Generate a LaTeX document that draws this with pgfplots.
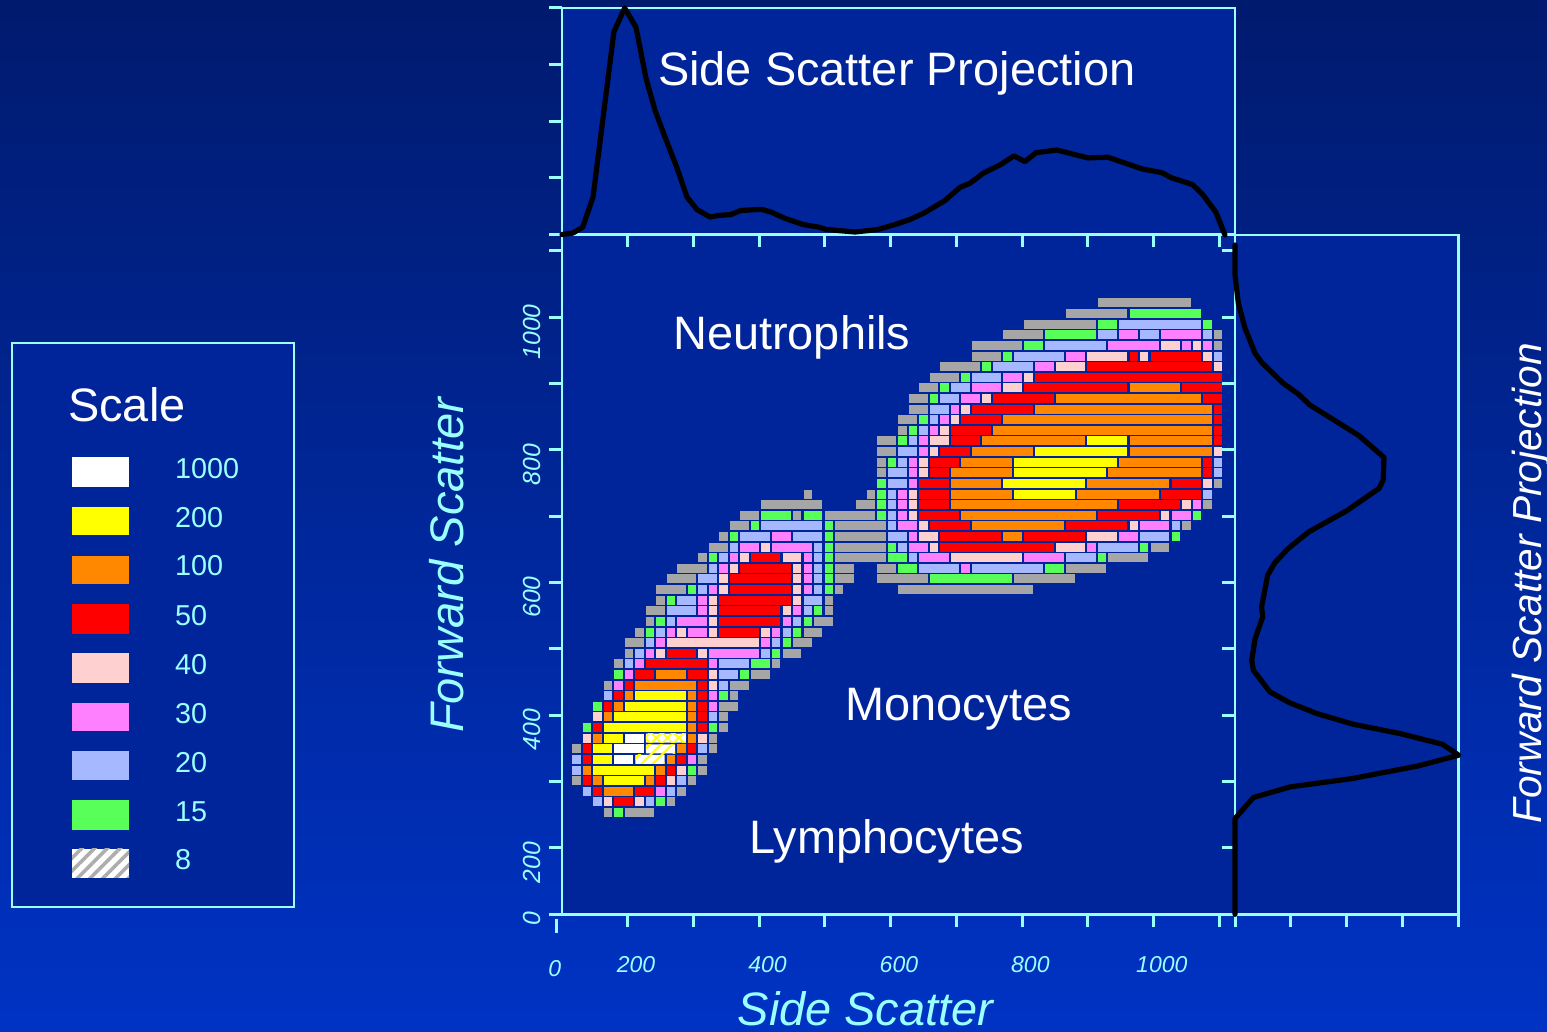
\documentclass[border=0pt]{standalone}
\usepackage{fontspec}
\setmainfont{Liberation Sans}
\usepackage{pgfplots}
\usepackage{pgfplotstable}
\pgfplotsset{compat=1.18}
\usetikzlibrary{patterns.meta}

\definecolor{panel}{HTML}{00259B}
\definecolor{edgecyan}{HTML}{99FFFF}
\definecolor{bgtop}{HTML}{001A6E}
\definecolor{bgbottom}{HTML}{0033C4}
\definecolor{c8}{HTML}{A6A6A6}
\definecolor{c15}{HTML}{59FF59}
\definecolor{c20}{HTML}{A6B8FF}
\definecolor{c30}{HTML}{FF80FF}
\definecolor{c40}{HTML}{FFD0D0}
\definecolor{c50}{HTML}{FF0000}
\definecolor{c100}{HTML}{FF8800}
\definecolor{c200}{HTML}{FFFF00}

% histogram cells, 64 x 64 bins: first bin, run length, row
\pgfplotstableread[row sep=\\]{x n row\\
51 9 57\\ 48 6 56\\ 44 7 55\\ 42 4 54\\ 62 1 54\\ 39 5 53\\ 62 1 53\\ 39 3 52\\ 36 4 51\\ 35 3 50\\
34 2 49\\ 33 2 48\\ 33 2 47\\ 32 2 46\\ 32 1 45\\ 30 2 44\\ 30 2 43\\ 30 1 42\\ 30 1 41\\ 62 1 40\\
23 1 39\\ 29 1 39\\ 19 6 38\\ 28 2 38\\ 61 1 38\\ 17 2 37\\ 22 1 37\\ 25 5 37\\ 16 2 36\\ 26 5 36\\ 59 1 36\\
15 1 35\\ 26 5 35\\ 14 2 34\\ 26 5 34\\ 56 2 34\\ 13 1 33\\ 26 5 33\\ 52 4 33\\ 11 3 32\\ 26 2 32\\ 30 2 32\\ 48 4 32\\
10 3 31\\ 26 2 31\\ 30 5 31\\ 43 6 31\\ 9 3 30\\ 26 1 30\\ 32 13 30\\ 9 1 29\\ 25 1 29\\ 8 2 28\\ 25 1 28\\
8 1 27\\ 24 2 27\\ 7 1 26\\ 23 2 26\\ 6 2 25\\ 22 2 25\\ 6 1 24\\ 21 2 24\\ 5 1 23\\ 20 1 23\\ 18 2 22\\
4 1 21\\ 16 2 21\\ 16 1 20\\ 15 2 19\\ 15 1 18\\ 15 1 17\\ 14 1 16\\ 1 1 15\\ 14 1 15\\ 13 1 14\\ 13 1 13\\
1 1 12\\ 12 1 12\\ 11 1 11\\ 10 1 10\\ 4 1 9\\ 6 3 9\\
}\cellsgray

\pgfplotstableread[row sep=\\]{x n row\\
54 7 56\\ 51 2 55\\ 61 1 55\\ 46 5 54\\ 44 2 53\\ 42 1 52\\ 40 1 51\\ 38 1 50\\ 36 1 49\\ 35 1 48\\
34 1 46\\ 33 1 45\\ 32 1 44\\ 31 1 42\\ 30 1 40\\ 30 1 39\\ 30 1 38\\ 19 3 37\\ 23 2 37\\ 30 1 37\\ 60 1 37\\
18 1 36\\ 25 1 36\\ 16 1 35\\ 25 1 35\\ 58 1 35\\ 25 1 34\\ 31 1 34\\ 55 1 34\\ 14 1 33\\ 25 1 33\\ 31 2 33\\ 51 1 33\\
25 1 32\\ 32 2 32\\ 46 2 32\\ 25 1 31\\ 35 8 31\\ 12 1 30\\ 25 1 30\\ 10 1 29\\ 24 1 28\\ 9 1 27\\ 23 1 27\\
8 1 26\\ 22 1 26\\ 21 1 25\\ 20 1 24\\ 18 2 23\\ 5 1 22\\ 17 1 22\\ 15 1 20\\ 3 1 19\\ 2 1 17\\ 14 1 17\\
12 1 13\\ 9 1 10\\ 5 1 9\\
}\cellsgreen

\pgfplotstableread[row sep=\\]{x n row\\
53 8 55\\ 51 2 54\\ 55 2 54\\ 61 1 54\\ 46 6 53\\ 43 5 52\\ 62 1 52\\ 41 4 51\\ 39 3 50\\ 37 2 49\\
36 2 48\\ 35 2 47\\ 35 1 46\\ 34 1 45\\ 33 1 44\\ 32 2 43\\ 32 1 42\\ 62 1 42\\ 31 2 41\\ 62 1 41\\ 31 2 40\\
31 1 39\\ 61 1 39\\ 31 1 38\\ 31 1 37\\ 19 6 36\\ 31 1 36\\ 58 1 36\\ 17 3 35\\ 22 3 35\\ 31 2 35\\ 55 3 35\\
16 1 34\\ 24 1 34\\ 32 1 34\\ 51 4 34\\ 15 1 33\\ 24 1 33\\ 33 1 33\\ 48 3 33\\ 14 1 32\\ 24 1 32\\ 34 4 32\\ 39 7 32\\
13 2 31\\ 24 1 31\\ 13 1 30\\ 24 1 30\\ 11 2 29\\ 23 2 29\\ 10 3 28\\ 23 1 28\\ 10 1 27\\ 22 1 27\\ 9 1 26\\ 21 1 26\\
8 1 25\\ 20 1 25\\ 7 1 24\\ 19 1 24\\ 6 1 23\\ 15 3 23\\ 15 2 22\\ 15 1 21\\ 4 1 20\\ 14 1 18\\ 13 1 15\\
1 1 14\\ 1 1 13\\ 11 1 12\\ 2 1 11\\ 10 1 11\\ 3 1 10\\ 8 1 10\\
}\cellsblue

\pgfplotstableread[row sep=\\]{x n row\\
53 2 54\\ 57 4 54\\ 52 5 53\\ 59 1 53\\ 61 1 53\\ 48 2 52\\ 45 2 51\\ 42 2 50\\ 39 3 49\\ 38 2 48\\ 37 1 47\\
36 1 46\\ 35 1 45\\ 34 1 44\\ 34 1 43\\ 33 1 42\\ 33 1 41\\ 33 1 40\\ 32 1 39\\ 32 1 38\\ 60 1 38\\ 32 1 37\\ 58 2 37\\
32 2 36\\ 55 3 36\\ 20 2 35\\ 33 1 35\\ 53 2 35\\ 17 2 34\\ 20 4 34\\ 33 2 34\\ 50 1 34\\ 16 1 33\\ 23 1 33\\ 34 3 33\\ 44 4 33\\
15 1 32\\ 23 1 32\\ 38 1 32\\ 23 1 31\\ 14 1 30\\ 23 1 30\\ 13 1 29\\ 13 1 28\\ 22 1 28\\ 11 3 27\\ 21 1 27\\
10 1 26\\ 12 2 26\\ 20 1 26\\ 9 1 25\\ 19 1 25\\ 8 1 24\\ 14 5 24\\ 7 1 23\\ 14 1 23\\ 6 1 22\\ 5 1 21\\
14 1 20\\ 14 1 19\\ 12 1 14\\ 9 1 11\\
}\cellsmagenta

\pgfplotstableread[row sep=\\]{x n row\\
57 2 53\\ 60 1 53\\ 50 4 52\\ 55 1 52\\ 61 1 52\\ 47 3 51\\ 62 1 51\\ 44 1 50\\ 42 2 49\\ 40 1 48\\ 38 1 47\\
37 1 46\\ 36 1 45\\ 35 2 44\\ 35 1 43\\ 62 1 43\\ 34 1 42\\ 34 1 41\\ 61 1 40\\ 33 1 39\\ 33 1 38\\ 59 1 38\\
33 1 37\\ 57 1 37\\ 34 1 36\\ 54 1 36\\ 34 2 35\\ 50 3 35\\ 19 1 34\\ 35 1 34\\ 47 3 34\\ 17 1 33\\ 21 2 33\\ 37 7 33\\
16 1 32\\ 22 1 32\\ 15 1 31\\ 22 1 31\\ 15 1 30\\ 22 1 30\\ 14 1 29\\ 22 1 29\\ 14 1 28\\ 21 1 28\\ 14 1 27\\
11 1 26\\ 14 1 26\\ 19 1 26\\ 10 9 25\\ 9 1 24\\ 13 1 24\\ 14 1 22\\ 14 1 21\\ 3 1 18\\ 2 1 16\\ 13 1 16\\
11 1 13\\ 10 1 12\\ 4 1 10\\ 7 1 10\\
}\cellspink

\pgfplotstableread[row sep=\\]{x n row\\
54 1 52\\ 56 5 52\\ 50 12 51\\ 45 18 50\\ 44 10 49\\ 59 4 49\\ 41 6 48\\ 61 2 48\\ 39 6 47\\ 62 1 47\\
38 4 46\\ 62 1 46\\ 37 4 45\\ 62 1 45\\ 37 3 44\\ 62 1 44\\ 36 3 43\\ 35 3 42\\ 61 1 42\\ 35 2 41\\ 61 1 41\\
34 3 40\\ 58 3 40\\ 34 3 39\\ 57 4 39\\ 34 3 38\\ 53 6 38\\ 34 4 37\\ 51 6 37\\ 35 4 36\\ 48 6 36\\ 36 6 35\\ 44 6 35\\
36 11 34\\ 18 3 33\\ 17 5 32\\ 16 6 31\\ 16 6 30\\ 15 7 29\\ 15 6 28\\ 15 6 27\\ 15 4 26\\ 10 3 24\\ 8 6 23\\
7 2 22\\ 12 2 22\\ 6 1 21\\ 13 1 21\\ 5 1 20\\ 13 1 20\\ 4 1 19\\ 13 1 19\\ 13 1 18\\ 3 1 17\\ 13 1 17\\
2 1 15\\ 12 1 15\\ 2 1 14\\ 11 1 14\\ 10 1 13\\ 2 1 12\\ 9 1 12\\ 3 1 11\\ 7 2 11\\ 5 2 10\\
}\cellsred

\pgfplotstableread[row sep=\\]{x n row\\
54 5 49\\ 47 14 48\\ 45 17 47\\ 42 20 46\\ 41 21 45\\ 40 10 44\\ 54 8 44\\ 39 6 43\\ 54 8 43\\ 38 5 42\\ 53 8 42\\
37 6 41\\ 52 9 41\\ 37 5 40\\ 50 8 40\\ 37 6 39\\ 49 8 39\\ 37 16 38\\ 38 13 37\\ 39 9 36\\ 42 2 35\\
9 3 22\\ 7 6 21\\ 6 1 20\\ 12 1 20\\ 5 1 19\\ 12 1 19\\ 4 1 18\\ 12 1 18\\ 12 1 17\\ 3 1 16\\ 12 1 16\\
11 1 15\\ 10 1 14\\ 2 1 13\\ 9 1 13\\ 3 1 12\\ 8 1 12\\ 4 3 11\\
}\cellsorange

\pgfplotstableread[row sep=\\]{x n row\\
50 4 44\\ 45 9 43\\ 43 10 42\\ 43 9 41\\ 42 8 40\\ 43 6 39\\ 7 5 20\\ 6 6 19\\ 5 7 18\\ 4 8 17\\
4 2 16\\ 3 2 15\\ 3 2 14\\ 3 6 13\\ 4 4 12\\
}\cellsyellow

\pgfplotstableread[row sep=\\]{x n row\\
6 2 16\\ 5 3 15\\ 5 2 14\\
}\cellswhite

% a run of cells as a thick quiver arrow without head, channels = 16 x bin
\pgfplotsset{
  cell runs/.style={no marks,color=#1,
    quiver={u=16*\thisrow{n}-3.2,v=0,
      every arrow/.append style={line width=9pt,color=#1,line cap=butt}}},
  /pgfplots/table/cell table/.style={
    /pgfplots/table/x expr=16*\thisrow{x}-0.5,
    /pgfplots/table/y expr=16*\thisrow{row}+9.5},
  panel axis/.style={scale only axis,clip=false,
    axis background/.style={fill=panel},
    axis line style={color=edgecyan,line width=2.7pt},
    tick style={color=edgecyan,line width=3pt},
    major tick length=13pt,tick align=outside,
    xtick pos=bottom,ytick pos=left},
  projection/.style={color=black,line width=5.2pt,line join=round,line cap=round,no marks},
}

\newcommand{\bigfont}{\fontsize{46.9}{50}\selectfont}

\begin{document}
\begin{tikzpicture}[x=1pt,y=1pt]
\useasboundingbox (0,0) rectangle (1547,1032);
\shade[top color=bgtop,bottom color=bgbottom] (0,0) rectangle (1547,1032);

% scale box
\draw[draw=edgecyan,line width=2.7pt,fill=panel] (12,125) rectangle (294,689);
\node[anchor=base west,inner sep=0pt,text=white,font=\bigfont] at (68,610) {Scale};
\fill[white] (72,545) rectangle (129,575);
\fill[c200] (72,497) rectangle (129,525);
\fill[c100] (72,448) rectangle (129,476);
\fill[c50] (72,398) rectangle (129,428);
\fill[c40] (72,349) rectangle (129,379);
\fill[c30] (72,301) rectangle (129,329);
\fill[c20] (72,252) rectangle (129,281);
\fill[c15] (72,202) rectangle (129,232);
\fill[white,postaction={pattern={Lines[angle=45,distance=9pt,line width=3.5pt]},pattern color=black!32}] (72,154) rectangle (129,183);
\begin{scope}[every node/.style={anchor=west,inner sep=0pt,text=edgecyan,font=\fontsize{28.8}{30}\selectfont}]
\node at (175,563) {1000};
\node at (175,514) {200};
\node at (175,466) {100};
\node at (175,416) {50};
\node at (175,367) {40};
\node at (175,318) {30};
\node at (175,269) {20};
\node at (175,220) {15};
\node at (175,172) {8};
\end{scope}

% main panel
\begin{axis}[panel axis,at={(562pt,117.7pt)},anchor=south west,
  width=673pt,height=679.3pt,
  xmin=0,xmax=1024,ymin=0,ymax=1024,
  xtick={100,200,...,1000},ytick={0,100,...,1000},
  xticklabels={200,,400,,600,,800,,1000,},
  yticklabels={,200,,400,,600,,800,,1000,},
  xticklabel style={text=edgecyan,inner sep=0pt,anchor=north,xshift=8.3pt,yshift=-29pt,
    font=\fontsize{23}{25}\selectfont\itshape},
  yticklabel style={text=edgecyan,inner sep=0pt,yshift=-14.5pt,xshift=-8pt,rotate=90,anchor=south,
    font=\fontsize{24.7}{26}\selectfont\itshape},
  xlabel={Side Scatter},ylabel={Forward Scatter},
  xlabel style={text=edgecyan,at={(axis description cs:0.451,-0.164)},anchor=base,
    font=\bigfont\itshape},
  ylabel style={text=edgecyan,at={(axis description cs:-0.147,0.5135)},anchor=base,
    font=\fontsize{47.1}{50}\selectfont\itshape},
]
\addplot[cell runs=c8] table[cell table] {\cellsgray};
\addplot[cell runs=c15] table[cell table] {\cellsgreen};
\addplot[cell runs=c20] table[cell table] {\cellsblue};
\addplot[cell runs=c30] table[cell table] {\cellsmagenta};
\addplot[cell runs=c40] table[cell table] {\cellspink};
\addplot[cell runs=c50] table[cell table] {\cellsred};
\addplot[cell runs=c100] table[cell table] {\cellsorange};
\addplot[cell runs=c200] table[cell table] {\cellsyellow};
\addplot[cell runs=white] table[cell table] {\cellswhite};
% white cells with yellow hatching
\addplot[draw=none,fill=white,postaction={pattern={Lines[angle=45,distance=8pt,line width=1.8pt]},pattern color=c200},
  postaction={pattern={Lines[angle=-45,distance=8pt,line width=1.8pt]},pattern color=c200}]
  coordinates {(127.5,258.7)(188.3,258.7)(188.3,272.3)(127.5,272.3)(127.5,258.7)};
\addplot[draw=none,fill=white,postaction={pattern={Lines[angle=45,distance=8pt,line width=2.2pt]},pattern color=c200}]
  coordinates {(127.5,242.7)(172.3,242.7)(172.3,256.3)(127.5,256.3)(127.5,242.7)};
\addplot[draw=none,fill=white,postaction={pattern={Lines[angle=45,distance=8pt,line width=2.2pt]},pattern color=c200}]
  coordinates {(111.5,226.7)(156.3,226.7)(156.3,240.3)(111.5,240.3)(111.5,226.7)};
\node[text=edgecyan,inner sep=0pt,font=\fontsize{23}{25}\selectfont\itshape] at (axis cs:-11,-82) {0};
\node[text=edgecyan,inner sep=0pt,rotate=90,font=\fontsize{24.7}{26}\selectfont\itshape] at (axis cs:-45,-6) {0};
\draw[draw=edgecyan,line width=3pt] (axis cs:-8,-7) -- (axis cs:-8,-28);
\end{axis}

% forward scatter projection
\begin{axis}[panel axis,at={(1235pt,117.7pt)},anchor=south west,
  width=223.7pt,height=679.3pt,
  xmin=0,xmax=100,ymin=0,ymax=1024,
  xtick={0,25,...,100},ytick={100,200,...,1000},
  xticklabels={},yticklabels={},
]
\addplot[projection] coordinates {
(0,0)(0,144.3)(8.2,176)(24.6,192)(52.4,204.6)(81.8,223.6)(100,239.8)(92.7,256.4)
(73.7,272.5)(52.8,286.5)(36.5,302.7)(24.6,318.6)(15.6,335.2)(8.2,368)(7.5,383)
(9,415.8)(12.4,448.3)(11.9,463.4)(14.6,511.2)(17.9,530.4)(23.8,551.5)(33,576.5)
(49.9,608.2)(64.4,642)(66.2,654.5)(66.6,688.7)(55.5,721.3)(47.9,737.4)(33.5,767.6)
(28.3,784.2)(21.6,800.3)(11.9,832)(9,845.5)(4.5,883.3)(1.5,921)(0,963.6)(0,1008.9)
};
\end{axis}

% side scatter projection
\begin{axis}[panel axis,at={(562pt,797.5pt)},anchor=south west,
  width=673pt,height=226.5pt,
  xmin=0,xmax=1024,ymin=0,ymax=100,
  xtick={100,200,...,1000},ytick={0,25,...,100},
  xticklabels={},yticklabels={},
]
\addplot[projection] coordinates {
(0,0)(16.3,0.6)(31.5,3.2)(47.2,16.5)(79,89.5)(95.4,100)(112.6,91.5)(127.8,68.9)
(141.5,54.9)(156.7,43)(174.5,29.8)(190.2,16.5)(205.4,11)(225.2,7.7)(237.4,8.4)
(256.7,8.8)(271.9,10.6)(303.9,11.1)(319,9.8)(339.3,7.1)(366.7,4.4)(391.5,3.2)
(401.7,2.2)(445.8,1.1)(480.8,2.2)(506.7,4.4)(529.5,6.6)(552.3,9.7)(582.7,15)
(605.6,20.8)(620.8,22.6)(640.6,27)(666.4,30.7)(687.7,34.7)(704.4,32.2)(721.2,36.1)
(752.7,37.3)(800.3,33.8)(830.7,34.1)(882,29)(912.4,27.3)(927.7,25)(959.6,22)
(975.3,17.5)(995,9.8)(1008.7,-0.2)
};
\end{axis}

% titles and population names
\begin{scope}[every node/.style={anchor=base west,inner sep=0pt,text=white,font=\bigfont}]
\node at (658,946) {Side Scatter Projection};
\node at (673,682) {Neutrophils};
\node at (845,311) {Monocytes};
\node at (749,178) {Lymphocytes};
\end{scope}
\node[anchor=base,inner sep=0pt,text=white,rotate=90,font=\fontsize{40.6}{44}\selectfont\itshape] at (1541,448.5) {Forward Scatter Projection};
\end{tikzpicture}
\end{document}
